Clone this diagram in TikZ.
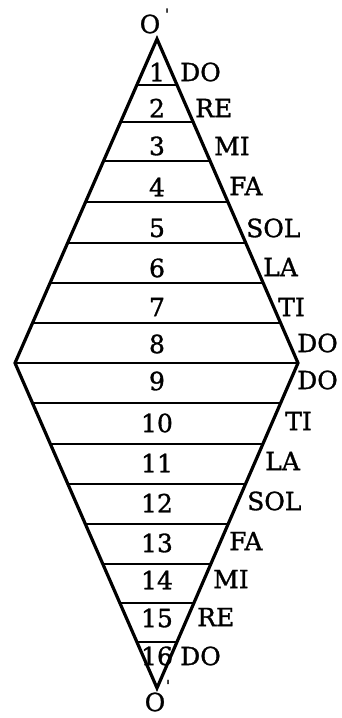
\documentclass[tikz,border=0pt]{standalone}
\usepackage{fontspec}
\setmainfont[FakeBold=1.2]{DejaVu Serif}
\usetikzlibrary{calc}
\begin{document}
\begin{tikzpicture}[x=1pt,y=-1pt,
  edge/.style={line width=3.2pt,line join=miter},
  rung/.style={line width=2.8pt},
  num/.style={inner sep=0pt,font=\fontsize{25}{25}\selectfont},
  note/.style={inner sep=0pt,anchor=west,font=\fontsize{25}{25}\selectfont},
  tick/.style={inner sep=0pt,font=\fontsize{15}{15}\selectfont}]
\useasboundingbox (0,0) rectangle (341,718);
\coordinate (T) at (157,39);
\coordinate (L) at (15,363);
\coordinate (R) at (298,363);
\coordinate (B) at (157,688);
\draw[edge] (T) -- (R) -- (B) -- (L) -- cycle;
\draw[rung] (L) -- (R);
\foreach \y in {85,122,161,202,243,283,323}{
  \pgfmathsetmacro{\t}{(\y-39)/324}
  \draw[rung] ($(T)!\t!(L)$) -- ($(T)!\t!(R)$);
}
\foreach \y in {403,444,484,524,564,603,642}{
  \pgfmathsetmacro{\t}{(688-\y)/325}
  \draw[rung] ($(B)!\t!(L)$) -- ($(B)!\t!(R)$);
}
% apex labels
\node[num] (otop) at (150,24) {O};
\node[tick] (ptop) at (167,14) {\textquotesingle};
\node[num] (obot) at (155,702) {O};
\node[tick,anchor=south] (pbot) at (168,691) {\textquotesingle};
% numbers
\foreach \n/\y in {1/72,2/108,3/146,4/187,5/228,6/268,7/307,8/344,
                   9/381,10/423,11/463,12/503,13/543,14/580,15/618,16/656}{
  \node[num] (n\n) at (157,\y) {\n};
}
% notes
\foreach \i/\x/\y/\s in {1/180/72/DO,2/195/108/RE,3/214/146/MI,4/229/186/FA,
   5/246/228/SOL,6/263/267/LA,7/278/307/TI,8/297/343/DO,9/297/380/DO,
   10/285/421/TI,11/265/461/LA,12/247/501/SOL,13/229/541/FA,14/213/579/MI,
   15/197/617/RE,16/180/656/DO}{
  \node[note] (s\i) at (\x,\y) {\s};
}
\end{tikzpicture}
\end{document}
